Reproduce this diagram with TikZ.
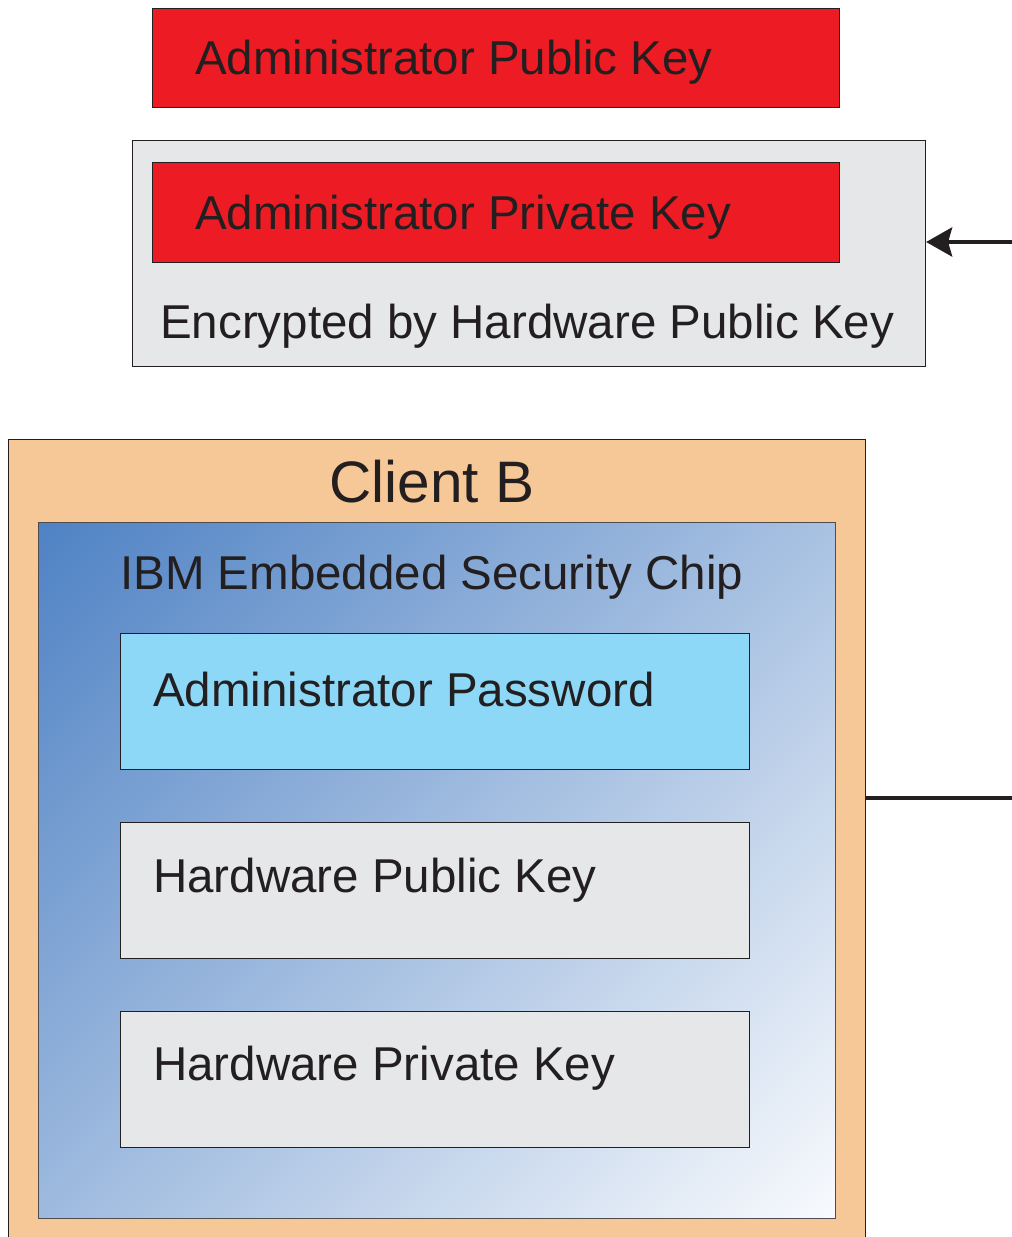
\documentclass[tikz,border=0pt]{standalone}
\usepackage{fontspec}
\setmainfont{Liberation Sans}
\usetikzlibrary{arrows.meta}
\definecolor{keyred}{HTML}{ED1C24}
\definecolor{boxgray}{HTML}{E6E7E8}
\definecolor{clientorange}{HTML}{F6C797}
\definecolor{chipblue}{HTML}{4F82C4}
\definecolor{chipwhite}{HTML}{F8FAFD}
\definecolor{pwblue}{HTML}{8DD8F6}
\definecolor{ink}{HTML}{231F20}
\pgfdeclareverticalshading{chipgrad}{100bp}{color(0bp)=(chipwhite); color(14.64bp)=(chipwhite); color(85.36bp)=(chipblue); color(100bp)=(chipblue)}
\begin{document}
\begin{tikzpicture}[x=1pt,y=-1pt,
  box/.style={draw=ink, line width=1.1pt, rectangle, inner sep=0pt, anchor=north west},
  lbl/.style={text=ink, font=\fontsize{47.5}{56}\selectfont, inner sep=0pt, anchor=west},
  conn/.style={draw=ink, line width=4.5pt}]
\useasboundingbox (0,0) rectangle (1012,1237);
% top keys
\node[box, fill=keyred, minimum width=687pt, minimum height=99pt] (pub) at (152,8) {};
\node[lbl] (publbl) at (195,62) {Administrator Public Key};
\node[box, fill=boxgray, minimum width=793pt, minimum height=226pt] (enc) at (132,140) {};
\node[box, fill=keyred, minimum width=687pt, minimum height=100pt] (priv) at (152,162) {};
\node[lbl] (privlbl) at (195,217) {Administrator Private Key};
\node[lbl] (enclbl) at (160,326) {Encrypted by Hardware Public Key};
\coordinate (arrstart) at (1012,242);
\draw[conn, line width=4pt, -{Stealth[length=26pt,width=29pt,inset=4pt]}] (arrstart) -- (arrstart -| enc.east);
% client B
\node[box, fill=clientorange, minimum width=857pt, minimum height=820pt] (client) at (8,439) {};
\node[text=ink, inner sep=0pt, font=\fontsize{58.5}{68}\selectfont] (clientlbl) at (432,482) {Client B};
\shade[shading=chipgrad, shading angle=45] (38,522) rectangle (835,1218);
\node[box, draw=ink!80, minimum width=797pt, minimum height=696pt] (chip) at (38,522) {};
\node[lbl] (chiplbl) at (120,577) {IBM Embedded Security Chip};
\node[box, fill=pwblue, minimum width=629pt, minimum height=136pt] (pw) at (120,633) {};
\node[lbl] (pwlbl) at (153,690) {Administrator Password};
\node[box, fill=boxgray, minimum width=629pt, minimum height=136pt] (hpub) at (120,822) {};
\node[lbl] (hpublbl) at (153,880) {Hardware Public Key};
\node[box, fill=boxgray, minimum width=629pt, minimum height=136pt] (hpriv) at (120,1011) {};
\node[lbl] (hprivlbl) at (153,1068) {Hardware Private Key};
\coordinate (lineend) at (1012,798);
\draw[conn] (lineend -| client.east) -- (lineend);
\end{tikzpicture}
\end{document}
